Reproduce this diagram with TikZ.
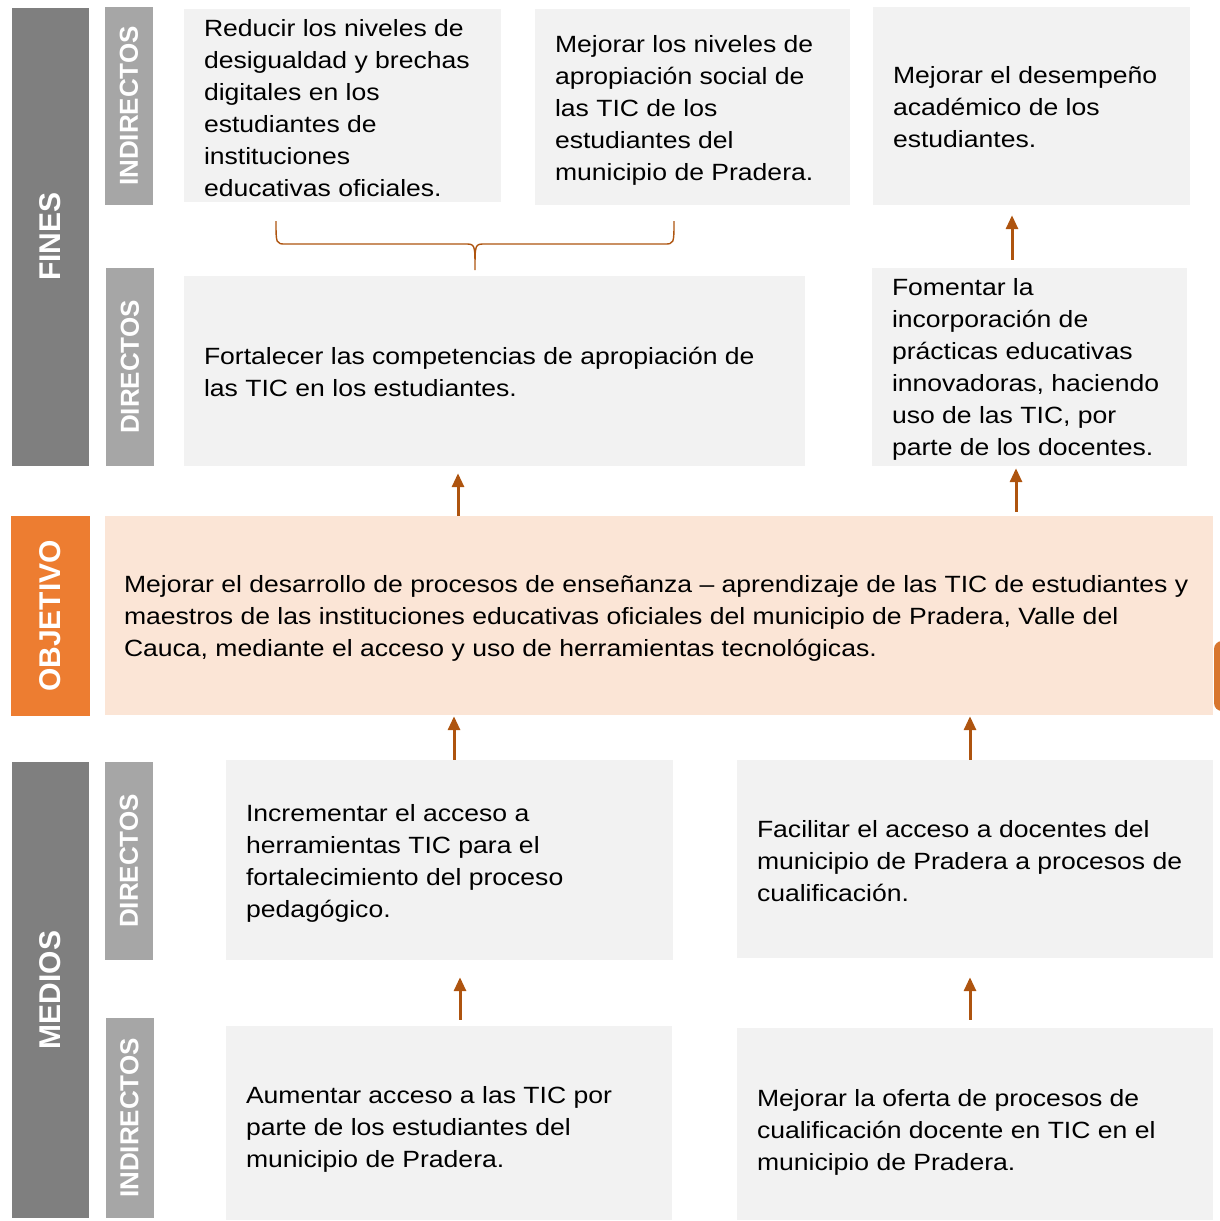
\documentclass[tikz,border=0pt]{standalone}
\usepackage{fontspec}
\setmainfont{Liberation Sans}
\newfontfamily\bodyfont{Liberation Sans}[FakeStretch=1.13]
\usetikzlibrary{arrows.meta}
\definecolor{darkbar}{HTML}{7F7F7F}
\definecolor{lightbar}{HTML}{A6A6A6}
\definecolor{boxgray}{HTML}{F2F2F2}
\definecolor{peach}{HTML}{FBE5D6}
\definecolor{orangebar}{HTML}{ED7D31}
\definecolor{arrowc}{HTML}{AE540F}
\definecolor{tabc}{HTML}{D8762E}
\tikzset{
  bigbar/.style={draw=none, minimum width=77pt, inner sep=0pt},
  smallbar/.style={draw=none, fill=lightbar, minimum width=48pt, inner sep=0pt},
  biglabel/.style={text=white, font=\fontsize{30}{30}\selectfont\bfseries, rotate=90, inner sep=0pt},
  smalllabel/.style={text=white, font=\fontsize{26}{26}\selectfont\bfseries, rotate=90, inner sep=0pt},
  gbox/.style={draw=none, fill=boxgray, inner sep=0pt},
  txt/.style={anchor=west, align=left, inner sep=0pt, text=black, font=\bodyfont\fontsize{23.5}{32}\selectfont},
  arr/.style={draw=arrowc, line width=3pt, -{Triangle[width=12pt,length=14pt]}},
}
\begin{document}
\begin{tikzpicture}[x=1pt,y=-1pt]
\useasboundingbox (0,0) rectangle (1220,1221);
\clip (0,0) rectangle (1220,1221);
% left bars
\node[bigbar, fill=darkbar, minimum height=458pt] (fines) at (50.5,236.5) {};
\node[biglabel] (finesL) at (fines.center) {FINES};
\node[bigbar, fill=orangebar, minimum width=79pt, minimum height=200pt] (objL) at (50.5,616) {};
\node[biglabel] (objT) at (objL.center) {OBJETIVO};
\node[bigbar, fill=darkbar, minimum height=456pt] (medios) at (50.5,990) {};
\node[biglabel] (mediosL) at (medios.center) {MEDIOS};
% second column
\node[smallbar, minimum height=198pt] (fi) at (129,106) {};
\node[smalllabel] at (fi.center) {INDIRECTOS};
\node[smallbar, minimum height=198pt] (fd) at (130,367) {};
\node[smalllabel] at (fd.center) {DIRECTOS};
\node[smallbar, minimum height=198pt] (md) at (129,861) {};
\node[smalllabel] at (md.center) {DIRECTOS};
\node[smallbar, minimum height=200pt] (mi) at (129.5,1118) {};
\node[smalllabel] at (mi.center) {INDIRECTOS};
% boxes
\node[gbox, minimum width=317pt, minimum height=193pt] (b1) at (342.5,105.5) {};
\node[txt] at ([xshift=20pt,yshift=-3pt]b1.west) {Reducir los niveles de\\desigualdad y brechas\\digitales en los\\estudiantes de\\instituciones\\educativas oficiales.};
\node[gbox, minimum width=315pt, minimum height=196pt] (b2) at (692.5,107) {};
\node[txt] at ([xshift=20pt,yshift=-3pt]b2.west) {Mejorar los niveles de\\apropiación social de\\las TIC de los\\estudiantes del\\municipio de Pradera.};
\node[gbox, minimum width=317pt, minimum height=198pt] (b3) at (1031.5,106) {};
\node[txt] at ([xshift=20pt,yshift=-1pt]b3.west) {Mejorar el desempeño\\académico de los\\estudiantes.};
\node[gbox, minimum width=621pt, minimum height=190pt] (b4) at (494.5,371) {};
\node[txt] at ([xshift=20pt,yshift=-1pt]b4.west) {Fortalecer las competencias de apropiación de\\las TIC en los estudiantes.};
\node[gbox, minimum width=315pt, minimum height=198pt] (b5) at (1029.5,367) {};
\node[txt] at ([xshift=20pt,yshift=-2pt]b5.west) {Fomentar la\\incorporación de\\prácticas educativas\\innovadoras, haciendo\\uso de las TIC, por\\parte de los docentes.};
\node[gbox, fill=peach, minimum width=1108pt, minimum height=199pt] (obj) at (659,615.5) {};
\node[txt] at ([xshift=19pt,yshift=-3pt]obj.west) {Mejorar el desarrollo de procesos de enseñanza – aprendizaje de las TIC de estudiantes y\\maestros de las instituciones educativas oficiales del municipio de Pradera, Valle del\\Cauca, mediante el acceso y uso de herramientas tecnológicas.};
\node[gbox, minimum width=447pt, minimum height=200pt] (b6) at (449.5,860) {};
\node[txt] at ([xshift=20pt,yshift=-3pt]b6.west) {Incrementar el acceso a\\herramientas TIC para el\\fortalecimiento del proceso\\pedagógico.};
\node[gbox, minimum width=476pt, minimum height=198pt] (b7) at (975,859) {};
\node[txt] at ([xshift=20pt,yshift=-2pt]b7.west) {Facilitar el acceso a docentes del\\municipio de Pradera a procesos de\\cualificación.};
\node[gbox, minimum width=446pt, minimum height=194pt] (b8) at (449,1123) {};
\node[txt] at ([xshift=20pt,yshift=-6pt]b8.west) {Aumentar acceso a las TIC por\\parte de los estudiantes del\\municipio de Pradera.};
\node[gbox, minimum width=476pt, minimum height=192pt] (b9) at (975,1124) {};
\node[txt] at ([xshift=20pt,yshift=-8pt]b9.west) {Mejorar la oferta de procesos de\\cualificación docente en TIC en el\\municipio de Pradera.};
% orange tab at right edge
\fill[tabc, rounded corners=8pt] (1214,641) rectangle (1260,711);
% brace
\coordinate (brL) at (276,221);
\coordinate (brR) at (674,221);
\coordinate (brTip) at (475,270);
\draw[draw=arrowc, line width=1.4pt]
  (brL) .. controls (276,244) and (276,244) .. (286,244) -- (465,244)
  .. controls (475,244) .. (brTip)
  .. controls (475,244) .. (485,244) -- (664,244)
  .. controls (674,244) and (674,244) .. (brR);
% arrows
\coordinate (xa) at (458,0);
\coordinate (xb) at (1016,0);
\coordinate (xc) at (1012,0);
\coordinate (xd) at (454,0);
\coordinate (xe) at (970,0);
\coordinate (xf) at (460,0);
\draw[arr, shorten >=7pt] (obj.north -| xa) -- (b4.south -| xa);
\draw[arr, shorten <=4pt, shorten >=2pt] (obj.north -| xb) -- (b5.south -| xb);
\draw[arr, shorten <=8pt, shorten >=10pt] (b5.north -| xc) -- (b3.south -| xc);
\draw[arr, shorten >=1pt] (b6.north -| xd) -- (obj.south -| xd);
\draw[arr, shorten >=1pt] (b7.north -| xe) -- (obj.south -| xe);
\draw[arr, shorten <=6pt, shorten >=17pt] (b8.north -| xf) -- (b6.south -| xf);
\draw[arr, shorten <=8pt, shorten >=19pt] (b9.north -| xe) -- (b7.south -| xe);
\end{tikzpicture}
\end{document}
